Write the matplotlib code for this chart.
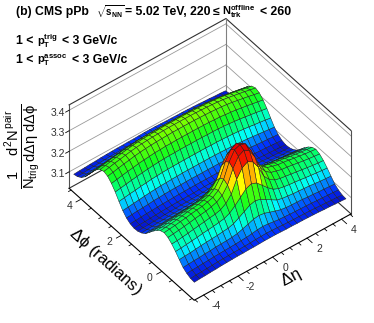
import numpy as np
import matplotlib
matplotlib.use('Agg')
import matplotlib.pyplot as plt
from matplotlib.colors import LinearSegmentedColormap

plt.rcParams['font.family'] = ['Liberation Sans', 'DejaVu Sans']
plt.rcParams['mathtext.fontset'] = 'custom'
plt.rcParams['mathtext.rm'] = 'Liberation Sans'
plt.rcParams['mathtext.it'] = 'Liberation Sans'
plt.rcParams['mathtext.bf'] = 'Liberation Sans:bold'

# values, quadrant dphi 0..pi (rows), deta 0..4.4 (columns)
# the correlation is mirrored about deta=0, dphi=0 and dphi=pi
quadrant = [
    [3.425, 3.415, 3.370, 3.301, 3.261, 3.241, 3.233, 3.226, 3.223, 3.219, 3.214, 3.210, 3.206, 3.203, 3.200],
    [3.415, 3.400, 3.355, 3.290, 3.253, 3.234, 3.226, 3.219, 3.216, 3.212, 3.207, 3.203, 3.199, 3.196, 3.193],
    [3.375, 3.360, 3.320, 3.262, 3.231, 3.214, 3.207, 3.203, 3.199, 3.195, 3.191, 3.187, 3.183, 3.180, 3.178],
    [3.285, 3.274, 3.248, 3.222, 3.200, 3.188, 3.183, 3.179, 3.176, 3.173, 3.169, 3.166, 3.163, 3.160, 3.158],
    [3.218, 3.211, 3.195, 3.179, 3.164, 3.157, 3.154, 3.151, 3.149, 3.147, 3.145, 3.142, 3.139, 3.137, 3.135],
    [3.163, 3.159, 3.150, 3.141, 3.133, 3.129, 3.127, 3.126, 3.125, 3.122, 3.121, 3.118, 3.117, 3.115, 3.113],
    [3.126, 3.124, 3.120, 3.116, 3.114, 3.112, 3.111, 3.110, 3.109, 3.108, 3.106, 3.105, 3.103, 3.102, 3.100],
    [3.109, 3.108, 3.107, 3.105, 3.104, 3.103, 3.103, 3.102, 3.101, 3.100, 3.098, 3.097, 3.095, 3.094, 3.092],
    [3.104, 3.104, 3.103, 3.102, 3.102, 3.101, 3.101, 3.100, 3.099, 3.098, 3.096, 3.095, 3.093, 3.092, 3.090],
    [3.109, 3.109, 3.109, 3.109, 3.108, 3.108, 3.107, 3.106, 3.105, 3.104, 3.102, 3.101, 3.099, 3.097, 3.095],
    [3.125, 3.125, 3.125, 3.125, 3.124, 3.124, 3.123, 3.122, 3.120, 3.119, 3.116, 3.114, 3.112, 3.109, 3.107],
    [3.150, 3.150, 3.150, 3.150, 3.149, 3.148, 3.147, 3.146, 3.144, 3.142, 3.139, 3.136, 3.133, 3.130, 3.127],
    [3.183, 3.183, 3.183, 3.182, 3.182, 3.181, 3.180, 3.178, 3.176, 3.173, 3.170, 3.166, 3.163, 3.159, 3.155],
    [3.218, 3.218, 3.218, 3.217, 3.217, 3.216, 3.214, 3.212, 3.209, 3.206, 3.202, 3.198, 3.194, 3.189, 3.185],
    [3.247, 3.247, 3.247, 3.246, 3.246, 3.244, 3.243, 3.240, 3.237, 3.234, 3.229, 3.225, 3.220, 3.215, 3.210],
    [3.268, 3.268, 3.268, 3.267, 3.266, 3.265, 3.263, 3.261, 3.258, 3.254, 3.249, 3.244, 3.239, 3.233, 3.228],
    [3.275, 3.275, 3.275, 3.274, 3.273, 3.272, 3.270, 3.268, 3.265, 3.261, 3.256, 3.251, 3.246, 3.240, 3.235],
]
eta_edges = np.linspace(-4.4, 4.4, 29)
phi_edges = np.linspace(-1.48, 4.5, 33)

eta_lim = (-4.55, 4.55)
phi_lim = (-1.6, 4.6)
z_lim = (3.02, 3.426)
eta_ticks = [-4, -2, 0, 2, 4]
phi_ticks = [0, 2, 4]
z_ticks = [3.1, 3.2, 3.3, 3.4]

level_values = [3.085, 3.105, 3.13, 3.155, 3.185, 3.225, 3.27, 3.30, 3.33, 3.37, 3.42]
level_colors = ['#0808b8', '#0030ff', '#0090ff', '#00ffff', '#00ff90', '#10ff20',
                '#70ff00', '#ffff00', '#ffa000', '#ff2000', '#e00000']

q = np.array(quadrant)
rows = np.concatenate([q[8:0:-1], q[0:16], q[16:7:-1]])
z = np.hstack([rows[:, :0:-1], rows])

pos = [(v - level_values[0]) / (level_values[-1] - level_values[0]) for v in level_values]
cmap = LinearSegmentedColormap.from_list('root_rainbow', list(zip(pos, level_colors)))

fig = plt.figure(figsize=(3.74, 3.23), dpi=100)
ax = fig.add_axes([0.05, -0.007, 1, 1], projection='3d', proj_type='ortho')
ax.set_xlim(*eta_lim)
ax.set_ylim(*phi_lim)
ax.set_zlim(*z_lim)
ax.set_box_aspect((200.8, 204.2, 118), zoom=0.924)
ax.view_init(elev=44.6, azim=-128.1)
ax.set_axis_off()
ax.patch.set_alpha(0)
for axis in (ax.xaxis, ax.yaxis, ax.zaxis):
    axis.set_visible(False)

e0, e1 = eta_lim
p0, p1 = phi_lim
z0, z1 = z_lim

# grid lines on the two back walls
for t in z_ticks:
    ax.plot([e0, e1], [p1, p1], [t, t], color='#9a9a9a', lw=0.6, zorder=1)
    ax.plot([e1, e1], [p1, p0], [t, t], color='#9a9a9a', lw=0.6, zorder=1)

# box outline
ax.plot([e0, e1, e1], [p1, p1, p0], [z1, z1, z1], color='#303030', lw=0.8, zorder=1)
ax.plot([e0, e1, e1], [p1, p1, p0], [z0, z0, z0], color='#303030', lw=0.8, zorder=1)
ax.plot([e1, e1], [p1, p1], [z0, z1], color='#808080', lw=0.8, zorder=1)
ax.plot([e0, e0], [p1, p1], [z0, z1], color='#505050', lw=0.8, zorder=1)
ax.plot([e1, e1], [p0, p0], [z0, z1], color='#505050', lw=0.8, zorder=1)

X, Y = np.meshgrid(eta_edges, phi_edges)
ax.plot_surface(X, Y, z, rstride=1, cstride=1, cmap=cmap,
                vmin=level_values[0], vmax=level_values[-1],
                edgecolor='#202020', linewidth=0.35, antialiased=True, shade=False, zorder=5)

# front axes
ax.plot([e0, e0, e1], [p1, p0, p0], [z0, z0, z0], color='black', lw=0.8, zorder=6)
for t in np.arange(-4.5, 4.6, 0.5):
    size = 0.25 if t in eta_ticks else 0.12
    ax.plot([t, t], [p0, p0 - size], [z0, z0], color='black', lw=0.6, zorder=6)
for t in np.arange(-1.5, 4.6, 0.5):
    size = 0.3 if t in phi_ticks else 0.15
    ax.plot([e0, e0 - size], [t, t], [z0, z0], color='black', lw=0.6, zorder=6)
for t in z_ticks:
    ax.plot([e0, e0 - 0.2], [p1, p1], [t, t], color='black', lw=0.6, zorder=6)

for t in eta_ticks:
    ax.text(t, p0 - 0.62, z0, str(t), ha='center', va='center', fontsize=7.5, color='#303030')
for t in phi_ticks:
    ax.text(e0 - 0.7, t, z0, str(t), ha='center', va='center', fontsize=7.5, color='#303030')
for t in z_ticks:
    ax.text(e0 - 0.25, p1, t, f'{t:.1f}', ha='right', va='center', fontsize=7.5, color='#303030')


def label(x_px, y_px, text, size=8.8):
    fig.text(x_px / 374, 1 - y_px / 323, text, fontsize=size, fontweight='bold', va='center', ha='left')


label(16, 12, '(b) CMS pPb')
label(96, 12, r'$\mathbf{\sqrt{s_{NN}}}$', 7)
label(125, 12, '= 5.02 TeV, 220')
label(213, 12, '\u2264')
label(222, 12, r'$\mathbf{N_{trk}^{offline}}$', 8)
label(260, 12, '< 260')

label(16, 41, '1 <')
label(37, 41, r'$\mathbf{p_{T}^{trig}}$', 8)
label(62, 41, '< 3 GeV/c')
label(16, 60, '1 <')
label(37, 60, r'$\mathbf{p_{T}^{assoc}}$', 8)
label(72, 60, '< 3 GeV/c')

fig.text(23 / 374, 1 - 146 / 323,
         r'$\frac{1}{N_{trig}}\frac{d^{2}N^{pair}}{d\Delta\eta\ d\Delta\phi}$',
         fontsize=15, rotation=90, va='center', ha='center')
fig.text(105 / 374, 1 - 262 / 323, r'$\Delta\phi$ (radians)', fontsize=12, rotation=-42,
         va='center', ha='center', rotation_mode='anchor')
fig.text(291 / 374, 1 - 278 / 323, r'$\Delta\eta$', fontsize=12, rotation=28,
         va='center', ha='center', rotation_mode='anchor')

fig.savefig('out.png', dpi=100)
